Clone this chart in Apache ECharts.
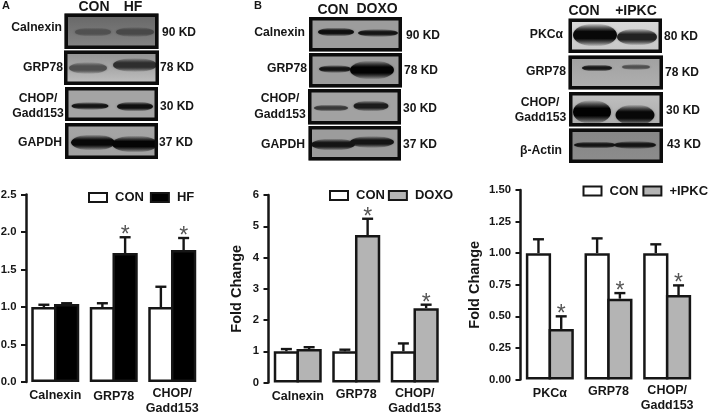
<!DOCTYPE html>
<html>
<head>
<meta charset="utf-8">
<style>html,body{margin:0;padding:0;background:#fff}#chart{width:709px;height:414px}</style>
<script src="https://cdn.jsdelivr.net/npm/echarts@6/dist/echarts.min.js"></script>
</head>
<body>
<div id="chart"></div>
<script>
// bar data
const catsA = ['Calnexin', 'GRP78', 'CHOP/\nGadd153'];
const conA = [1, 1, 1];
const conErrA = [0.03, 0.05, 0.27];
const hf = [1.04, 1.72, 1.76];
const hfErr = [0.01, 0.21, 0.16];
const hfSig = [0, 1, 1];

const catsB = ['Calnexin', 'GRP78', 'CHOP/\nGadd153'];
const conB = [1, 1, 1];
const conErrB = [0.07, 0.05, 0.25];
const doxo = [1.07, 4.72, 2.38];
const doxoErr = [0.06, 0.52, 0.11];
const doxoSig = [0, 1, 1];

const catsC = ['PKCα', 'GRP78', 'CHOP/\nGadd153'];
const conC = [1, 1, 1];
const conErrC = [0.11, 0.117, 0.07];
const ipkc = [0.40, 0.64, 0.668];
const ipkcErr = [0.10, 0.044, 0.077];
const ipkcSig = [1, 1, 1];

const blotLabelsA = ['Calnexin', 'GRP78', 'CHOP/', 'Gadd153', 'GAPDH'];
const blotLabelsB = ['Calnexin', 'GRP78', 'CHOP/', 'Gadd153', 'GAPDH'];
const blotLabelsC = ['PKCα', 'GRP78', 'CHOP/', 'Gadd153', 'β-Actin'];
const sizesA = ['90 KD', '78 KD', '30 KD', '37 KD'];
const sizesB = ['90 KD', '78 KD', '30 KD', '37 KD'];
const sizesC = ['80 KD', '78 KD', '30 KD', '43 KD'];

const FONT = '"Liberation Sans", Arial, sans-serif';
const INK = '#161616';
const GREY = '#b4b4b4';
const BAR_BORDER = 2.5;
// echarts keeps the border inside the bar, so the neighbours overlap by one border to share it
const BAR_W = 25.25;
const BAR_OFFSET = (BAR_W - BAR_BORDER) / 2;

// the western blot strips: frame [x, y, w, h, top fill, bottom fill], then bands [cx, cy, w, h, colour]
const blots = [
    {frame: [64.5, 13.5, 94, 35.5, '#666666', '#858585'], bands: [[93, 32, 36, 9, '#505050'], [135, 32, 38, 10, '#484848']]},
    {frame: [64, 50.5, 95, 34.5, '#8e8e8e', '#c2c2c2'], bands: [[88, 68, 38, 12, '#505050'], [135, 65, 44, 14, '#2e2e2e']]},
    {frame: [65, 87, 93, 34, '#a4a4a4', '#a4a4a4'], bands: [[90, 106, 37, 8, '#141414'], [135, 106.5, 36, 10, '#101010']]},
    {frame: [65, 123, 93, 36, '#a6a6a6', '#a0a0a0'], bands: [[93, 142.5, 44, 16, '#080808'], [135, 144, 46, 17, '#050505']]},

    {frame: [309, 17, 93, 34.5, '#9c9c9c', '#9c9c9c'], bands: [[336, 32, 36, 9, '#0e0e0e'], [378, 33, 40, 8, '#141414']]},
    {frame: [309, 53, 93, 34.5, '#9c9c9c', '#9c9c9c'], bands: [[335, 69, 32, 8, '#141414'], [372, 70, 44, 19, '#030303']]},
    {frame: [308, 89, 93, 35.5, '#a2a2a2', '#a2a2a2'], bands: [[331, 108, 34, 7, '#383838'], [371, 106, 35, 11, '#1c1c1c']]},
    {frame: [308.5, 126, 92.5, 34.5, '#9c9c9c', '#9c9c9c'], bands: [[333, 144.5, 44, 12, '#141414'], [372, 142, 44, 12, '#141414']]},

    {frame: [568.5, 18.5, 93.5, 34.5, '#dadada', '#c6c6c6'], bands: [[595, 35, 44, 23, '#080808'], [637, 37, 40, 17, '#222222']]},
    {frame: [568.5, 55.5, 94.5, 34, '#a0a0a0', '#b0b0b0'], bands: [[597, 68, 30, 7, '#181818'], [636, 67, 28, 6, '#505050']]},
    {frame: [569, 92, 94, 34.5, '#c0c0c0', '#acacac'], bands: [[592, 112, 38, 24, '#020202'], [635, 115, 39, 21, '#080808']]},
    {frame: [569, 128.5, 94, 34.5, '#868686', '#8c8c8c'], bands: [[595, 145, 42, 7, '#141414'], [635, 145, 42, 8, '#141414']]}
];

// text placed round the strips: x, y of each label
const textSpots = {
    labelsA: [[62, 28, 'right'], [63, 68, 'right'], [38, 99, 'center'], [38, 114, 'center'], [62, 143, 'right']],
    labelsB: [[305, 33, 'right'], [307, 69, 'right'], [280, 99, 'center'], [280, 115, 'center'], [305, 145, 'right']],
    labelsC: [[563, 35, 'right'], [566, 72, 'right'], [540, 103, 'center'], [540.5, 118, 'center'], [562, 151, 'right']],
    sizesA: [[162, 33], [160, 68], [160, 107], [159, 143]],
    sizesB: [[406, 36], [404, 71], [403, 109], [403, 145]],
    sizesC: [[664, 37], [665, 73], [666, 111], [667, 145]]
};

// single line category labels sit a little lower than the two line one
const labelDropsA = [2, 3, 0];
const labelDropsB = [3, 1, 0];
const labelDropsC = [3, 1, 0];

function text(str, x, y, size, align) {
    return {
        type: 'text',
        silent: true,
        style: {
            text: str, x: x, y: y,
            font: 'bold ' + size + 'px ' + FONT,
            fill: INK,
            align: align || 'left',
            verticalAlign: 'middle'
        }
    };
}

function buildBlots() {
    const out = [];
    blots.forEach(b => {
        const f = b.frame;
        out.push({
            type: 'rect', silent: true,
            shape: {x: f[0], y: f[1], width: f[2], height: f[3]},
            style: {fill: new echarts.graphic.LinearGradient(0, 0, 0, 1, [{offset: 0, color: f[4]}, {offset: 1, color: f[5]}])}
        });
        b.bands.forEach(r => {
            // soft top and bottom, the ellipse tapers the ends
            const soft = new echarts.graphic.LinearGradient(0, 0, 0, 1, [
                {offset: 0, color: echarts.color.modifyAlpha(r[4], 0)},
                {offset: 0.35, color: r[4]},
                {offset: 0.65, color: r[4]},
                {offset: 1, color: echarts.color.modifyAlpha(r[4], 0)}
            ]);
            out.push({
                type: 'ellipse', silent: true,
                shape: {cx: r[0], cy: r[1], rx: r[2] / 2, ry: r[3] / 2},
                style: {fill: soft, shadowBlur: 3, shadowColor: 'rgba(0,0,0,0.3)'}
            });
        });
    });
    // frames go on top so the band blur stays inside
    blots.forEach(b => {
        const f = b.frame;
        out.push({
            type: 'rect', silent: true,
            shape: {x: f[0] + 1.75, y: f[1] + 1.75, width: f[2] - 3.5, height: f[3] - 3.5},
            style: {fill: 'none', stroke: '#0c0c0c', lineWidth: 3.5}
        });
    });
    return out;
}

function buildTexts() {
    const out = [
        text('A', 6, 6, 11, 'center'), text('B', 258, 6, 11, 'center'),
        text('CON', 94, 7, 14, 'center'), text('HF', 133, 7, 14, 'center'),
        text('CON', 333, 10, 14, 'center'), text('DOXO', 377, 9, 14, 'center'),
        text('CON', 584, 11, 14, 'center'), text('+IPKC', 636, 11, 14, 'center')
    ];
    [[blotLabelsA, textSpots.labelsA], [blotLabelsB, textSpots.labelsB], [blotLabelsC, textSpots.labelsC]].forEach(p => {
        p[0].forEach((t, i) => out.push(text(t, p[1][i][0], p[1][i][1], 12.2, p[1][i][2])));
    });
    [[sizesA, textSpots.sizesA], [sizesB, textSpots.sizesB], [sizesC, textSpots.sizesC]].forEach(p => {
        p[0].forEach((t, i) => out.push(text(t, p[1][i][0], p[1][i][1], 12, 'left')));
    });
    return out;
}

// upward error bars plus the star, one side of each group
function errorSeries(panel, values, errs, sig, side) {
    return {
        type: 'custom',
        name: 'err' + panel + side,
        xAxisIndex: panel,
        yAxisIndex: panel,
        silent: true,
        z: 1,
        data: values.map((v, i) => [i, v, errs[i], sig ? sig[i] : 0]),
        renderItem: function (params, api) {
            const base = api.coord([api.value(0), api.value(1)]);
            const top = api.coord([api.value(0), api.value(1) + api.value(2)]);
            const x = base[0] + side * BAR_OFFSET;
            const line = {stroke: INK, lineWidth: 2.4, fill: 'none'};
            const kids = [
                {type: 'line', shape: {x1: x, y1: base[1], x2: x, y2: top[1]}, style: line},
                {type: 'line', shape: {x1: x - 5.5, y1: top[1], x2: x + 5.5, y2: top[1]}, style: line}
            ];
            if (api.value(3)) {
                kids.push({
                    type: 'text',
                    style: {
                        text: '*', x: x, y: top[1] - 1.5,
                        font: '23px ' + FONT,
                        fill: '#555555',
                        align: 'center',
                        verticalAlign: 'middle'
                    }
                });
            }
            return {type: 'group', children: kids};
        }
    };
}

function barSeries(panel, name, values, fill) {
    return {
        type: 'bar',
        name: name,
        xAxisIndex: panel,
        yAxisIndex: panel,
        barWidth: BAR_W,
        barGap: '-10%',
        data: values,
        z: 2,
        itemStyle: {color: fill, borderColor: INK, borderWidth: BAR_BORDER}
    };
}

function xAxis(panel, cats, drops) {
    return {
        type: 'category',
        gridIndex: panel,
        data: cats.map((c, i) => ({value: c, textStyle: {padding: [drops[i], 0, 0, 0]}})),
        axisLine: {show: false},
        axisTick: {show: false},
        axisLabel: {margin: 4, color: INK, fontFamily: FONT, fontWeight: 'bold', fontSize: 12.5, lineHeight: 15, interval: 0}
    };
}

function yAxis(panel, max, step, digits, withName, gap) {
    return {
        type: 'value',
        gridIndex: panel,
        min: 0,
        max: max,
        interval: step,
        name: withName ? 'Fold Change' : '',
        nameLocation: 'middle',
        nameGap: gap,
        nameTextStyle: {color: INK, fontFamily: FONT, fontWeight: 'bold', fontSize: 14.5},
        splitLine: {show: false},
        axisLine: {show: true, lineStyle: {color: INK, width: 2.5}},
        axisTick: {show: true, length: 5, lineStyle: {color: INK, width: 2}},
        axisLabel: {margin: 9.5, color: INK, fontFamily: FONT, fontWeight: 'bold', fontSize: 11.3,
            formatter: v => v.toFixed(digits)}
    };
}

function legend(names, left, top, gap) {
    return {
        data: names,
        left: left,
        top: top,
        orient: 'horizontal',
        padding: 0,
        itemWidth: 18,
        itemHeight: 9,
        itemGap: gap,
        selectedMode: false,
        icon: 'rect',
        textStyle: {color: INK, fontFamily: FONT, fontWeight: 'bold', fontSize: 13, padding: [0, 0, 0, 3]}
    };
}

const chart = echarts.init(document.getElementById('chart'), null, {renderer: 'canvas'});
chart.setOption({
    animation: false,
    backgroundColor: '#ffffff',
    grid: [
        {left: 26, top: 194.5, width: 175.5, height: 187.5, outerBoundsMode: 'none'},
        {left: 268.5, top: 195, width: 175.5, height: 187.5, outerBoundsMode: 'none'},
        {left: 520.5, top: 190, width: 176, height: 189.5, outerBoundsMode: 'none'}
    ],
    xAxis: [xAxis(0, catsA, labelDropsA), xAxis(1, catsB, labelDropsB), xAxis(2, catsC, labelDropsC)],
    yAxis: [
        yAxis(0, 2.5, 0.5, 1, false, 0),
        yAxis(1, 6, 1, 0, true, 24),
        yAxis(2, 1.5, 0.25, 2, true, 38)
    ],
    legend: [
        legend(['CON', 'HF'], 88, 191, 6),
        legend(['CON', 'DOXO'], 329, 189, 3),
        legend(['CON', '+IPKC'], 582.5, 184.5, 4)
    ],
    series: [
        barSeries(0, 'CON', conA, '#ffffff'),
        barSeries(0, 'HF', hf, '#000000'),
        errorSeries(0, conA, conErrA, null, -1),
        errorSeries(0, hf, hfErr, hfSig, 1),
        barSeries(1, 'CON', conB, '#ffffff'),
        barSeries(1, 'DOXO', doxo, GREY),
        errorSeries(1, conB, conErrB, null, -1),
        errorSeries(1, doxo, doxoErr, doxoSig, 1),
        barSeries(2, 'CON', conC, '#ffffff'),
        barSeries(2, '+IPKC', ipkc, GREY),
        errorSeries(2, conC, conErrC, null, -1),
        errorSeries(2, ipkc, ipkcErr, ipkcSig, 1)
    ],
    graphic: {elements: buildBlots().concat(buildTexts())}
});
</script>
</body>
</html>
